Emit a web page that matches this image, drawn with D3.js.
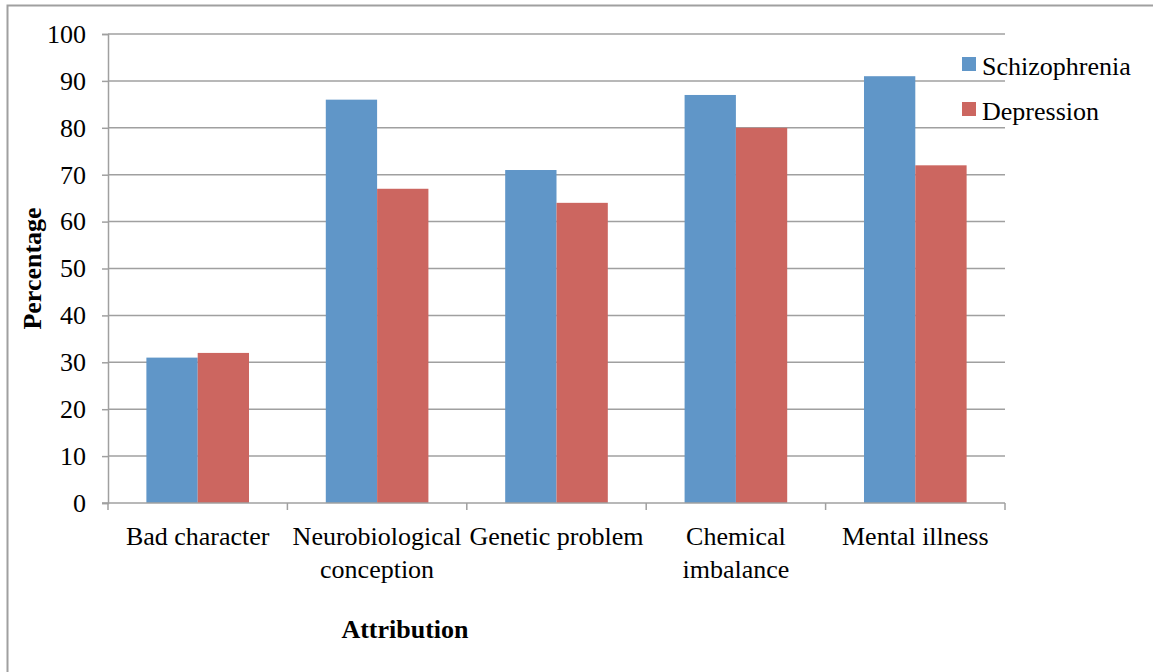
<!DOCTYPE html>
<html>
<head>
<meta charset="utf-8">
<script src="https://cdn.jsdelivr.net/npm/d3@7"></script>
<style>
  body { margin: 0; background: #fff; }
  text { font-family: "Liberation Serif", "Times New Roman", serif; fill: #000; }
</style>
</head>
<body>
<script>
"use strict";
(function () {

// data
const categories = ["Bad character", "Neurobiological conception", "Genetic problem", "Chemical imbalance", "Mental illness"]
const seriesNames = ["Schizophrenia", "Depression"]
const schizophrenia = [31, 86, 71, 87, 91]
const depression = [32, 67, 64, 80, 72]
const yTicks = [0, 10, 20, 30, 40, 50, 60, 70, 80, 90, 100]

const colors = ["#6096c8", "#cc6660"]
const gridColor = "#a0a0a0"

const m = {
    width: 1153,
    height: 672,
    left: 108,
    right: 1005,
    top: 34,
    bottom: 503
}

const svg = d3.select("body").append("svg")
    .attr("width", m.width)
    .attr("height", m.height)

// outer frame
svg.append("rect")
    .attr("x", 7.5)
    .attr("y", 5.5)
    .attr("width", m.width + 20)
    .attr("height", m.height + 20)
    .attr("fill", "none")
    .attr("stroke", gridColor)
    .attr("stroke-width", 2)

const x0 = d3.scaleBand()
    .domain(categories)
    .range([m.left, m.right])

const gap = x0.bandwidth() * 0.214
const x1 = d3.scaleBand()
    .domain(seriesNames)
    .range([gap, x0.bandwidth() - gap])

const y = d3.scaleLinear()
    .domain([0, 100])
    .range([m.bottom, m.top])

// gridlines
svg.append("g")
    .selectAll("line")
    .data(yTicks.filter(d => d > 0))
    .enter()
    .append("line")
    .attr("x1", m.left)
    .attr("x2", m.right)
    .attr("y1", d => y(d))
    .attr("y2", d => y(d))
    .attr("stroke", gridColor)
    .attr("stroke-width", 1.5)

// y axis
const yAxis = svg.append("g")
    .attr("transform", `translate(${m.left},0)`)
    .call(d3.axisLeft(y).tickValues(yTicks).tickSize(6).tickPadding(16))
yAxis.select(".domain").attr("stroke", gridColor).attr("stroke-width", 1.5)
yAxis.selectAll(".tick line").attr("stroke", gridColor).attr("stroke-width", 1.5)
yAxis.selectAll(".tick text")
    .attr("font-size", 26)
    .attr("fill", "#000")
    .attr("font-family", "Liberation Serif, serif")

// bars
const rows = categories.map((c, i) => ({ cat: c, vals: [schizophrenia[i], depression[i]] }))

const groups = svg.append("g")
    .selectAll("g")
    .data(rows)
    .enter()
    .append("g")
    .attr("transform", d => `translate(${x0(d.cat)},0)`)

groups.selectAll("rect")
    .data(d => d.vals.map((v, j) => ({ name: seriesNames[j], v: v, j: j })))
    .enter()
    .append("rect")
    .attr("x", d => x1(d.name))
    .attr("width", x1.bandwidth())
    .attr("y", d => y(d.v))
    .attr("height", d => y(0) - y(d.v))
    .attr("fill", d => colors[d.j])

// x axis
const xAxis = svg.append("g")
    .attr("transform", `translate(0,${m.bottom})`)
xAxis.append("line")
    .attr("x1", m.left - 6)
    .attr("x2", m.right)
    .attr("stroke", gridColor)
    .attr("stroke-width", 1.5)

const boundaries = categories.map(c => x0(c)).concat([m.right])
xAxis.selectAll(".xtick")
    .data(boundaries)
    .enter()
    .append("line")
    .attr("class", "xtick")
    .attr("x1", d => d)
    .attr("x2", d => d)
    .attr("y1", 0)
    .attr("y2", 7)
    .attr("stroke", gridColor)
    .attr("stroke-width", 1.5)

const labels = xAxis.selectAll(".xlabel")
    .data(categories)
    .enter()
    .append("text")
    .attr("class", "xlabel")
    .attr("text-anchor", "middle")
    .attr("font-size", 26)
    .attr("x", d => x0(d) + x0.bandwidth() / 2)
    .attr("y", 42)

// wrap labels to the band width like the original
labels.each(function (d) {
    const t = d3.select(this)
    const words = d.split(" ")
    let line = []
    let lineNo = 0
    let tspan = t.append("tspan").attr("x", t.attr("x")).attr("dy", 0)
    words.forEach(w => {
        line.push(w)
        tspan.text(line.join(" "))
        if (tspan.node().getComputedTextLength() > x0.bandwidth() + 2 && line.length > 1) {
            line.pop()
            tspan.text(line.join(" "))
            line = [w]
            lineNo++
            tspan = t.append("tspan").attr("x", t.attr("x")).attr("dy", 33).text(w)
        }
    })
})

// axis titles
svg.append("text")
    .attr("x", 405)
    .attr("y", 638)
    .attr("text-anchor", "middle")
    .attr("font-size", 26)
    .attr("font-weight", "bold")
    .text("Attribution")

svg.append("text")
    .attr("transform", `translate(41,${(m.top + m.bottom) / 2}) rotate(-90)`)
    .attr("text-anchor", "middle")
    .attr("font-size", 26)
    .attr("font-weight", "bold")
    .text("Percentage")

// legend
const legend = svg.append("g")
    .selectAll("g")
    .data(seriesNames)
    .enter()
    .append("g")
    .attr("transform", (d, i) => `translate(962,${57 + i * 45})`)

legend.append("rect")
    .attr("width", 14)
    .attr("height", 14)
    .attr("fill", (d, i) => colors[i])

legend.append("text")
    .attr("x", 20)
    .attr("y", 18)
    .attr("font-size", 26)
    .text(d => d)

})();
</script>
</body>
</html>
